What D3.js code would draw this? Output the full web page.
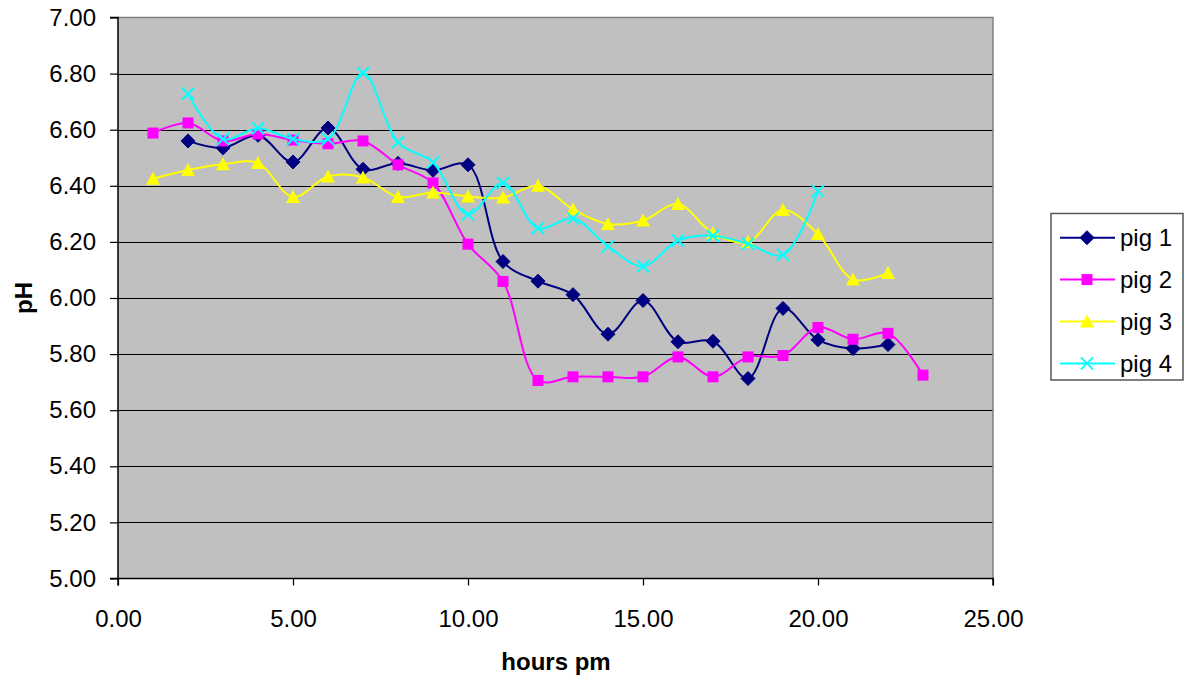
<!DOCTYPE html>
<html><head><meta charset="utf-8">
<script src="https://cdn.jsdelivr.net/npm/d3@7"></script>
<style>body{margin:0;background:#fff;} svg{display:block;font-family:Arial,"Liberation Sans",sans-serif;}</style>
</head><body><svg id="c" width="1186" height="679"></svg>
<script>
// ---- data ----
const hours1 = [2,3,4,5,6,7,8,9,10,11,12,13,14,15,16,17,18,19,20,21,22];
const pig1 = [6.56,6.535,6.58,6.485,6.606,6.459,6.48,6.455,6.475,6.13,6.06,6.012,5.871,5.991,5.844,5.846,5.713,5.963,5.851,5.82,5.834];
const hours2 = [1,2,3,4,5,6,7,8,9,10,11,12,13,14,15,16,17,18,19,20,21,22,23];
const pig2 = [6.588,6.624,6.56,6.585,6.563,6.55,6.56,6.475,6.41,6.192,6.059,5.706,5.719,5.719,5.719,5.79,5.719,5.79,5.795,5.895,5.853,5.874,5.725];
const hours3 = [1,2,3,4,5,6,7,8,9,10,11,12,13,14,15,16,17,18,19,20,21,22];
const pig3 = [6.425,6.456,6.477,6.481,6.36,6.433,6.43,6.36,6.376,6.362,6.358,6.40,6.316,6.264,6.276,6.335,6.231,6.20,6.314,6.228,6.066,6.089];
const hours4 = [2,3,4,5,6,7,8,9,10,11,12,13,14,15,16,17,18,19,20];
const pig4 = [6.728,6.567,6.605,6.567,6.567,6.802,6.555,6.483,6.298,6.41,6.249,6.284,6.184,6.113,6.205,6.222,6.193,6.154,6.381];
const seriesNames = ["pig 1","pig 2","pig 3","pig 4"];
const seriesColors = ["#000080","#FF00FF","#FFFF00","#00FFFF"];
const seriesMarkers = ["diamond","square","triangle","x"];
const xTicks = [0,5,10,15,20,25];
const yTicks = [5.0,5.2,5.4,5.6,5.8,6.0,6.2,6.4,6.6,6.8,7.0];
const xTitle = "hours pm";
const yTitle = "pH";

const series = [
  {name:seriesNames[0], color:seriesColors[0], marker:seriesMarkers[0], pts:hours1.map((h,i)=>[h,pig1[i]])},
  {name:seriesNames[1], color:seriesColors[1], marker:seriesMarkers[1], pts:hours2.map((h,i)=>[h,pig2[i]])},
  {name:seriesNames[2], color:seriesColors[2], marker:seriesMarkers[2], pts:hours3.map((h,i)=>[h,pig3[i]])},
  {name:seriesNames[3], color:seriesColors[3], marker:seriesMarkers[3], pts:hours4.map((h,i)=>[h,pig4[i]])}
];

// ---- layout ----
const L=118, R=993, T=17.5, B=578.5;
const svg = d3.select("#c");
const x = d3.scaleLinear().domain([0,25]).range([L,R]);
const y = d3.scaleLinear().domain([5,7]).range([B,T]);

svg.append("rect").attr("x",L).attr("y",T).attr("width",R-L).attr("height",B-T).attr("fill","#C0C0C0");

// grid
svg.append("g").selectAll("line").data(yTicks.filter(v=>v>5 && v<7)).join("line")
  .attr("x1",L).attr("x2",R).attr("y1",d=>Math.round(y(d))+0.5).attr("y2",d=>Math.round(y(d))+0.5)
  .attr("stroke","#000").attr("stroke-width",1.2);

// border top/right
svg.append("path").attr("d",`M${L},${T}H${R}V${B}`).attr("fill","none").attr("stroke","#808080").attr("stroke-width",1.5);

// axes
const yAxis = d3.axisLeft(y).tickValues(yTicks).tickFormat(d3.format(".2f")).tickSize(8).tickPadding(14);
const gy = svg.append("g").attr("transform",`translate(${L},0)`).call(yAxis);
const xAxis = d3.axisBottom(x).tickValues(xTicks).tickFormat(d3.format(".2f")).tickSize(7).tickPadding(24);
const gx = svg.append("g").attr("transform",`translate(0,${B})`).call(xAxis);
[gy,gx].forEach(g=>{
  g.select(".domain").attr("stroke","#000").attr("stroke-width",1.5);
  g.selectAll(".tick line").attr("stroke","#000").attr("stroke-width",1.2);
  g.selectAll("text").attr("font-size",24).attr("fill","#000").attr("font-family","Arial, 'Liberation Sans', sans-serif");
});
gy.select(".domain").attr("d",`M-8,${B}H0V${T}H-8`);
gx.select(".domain").attr("d",`M${L},7V0H${R}V7`);

// titles
svg.append("text").attr("x",556).attr("y",670).attr("text-anchor","middle")
  .attr("font-size",24).attr("font-weight","bold").text(xTitle);
svg.append("text").attr("transform","translate(32,298) rotate(-90)").attr("text-anchor","middle")
  .attr("font-size",24).attr("font-weight","bold").text(yTitle);

// markers
function marker(g, type, color, cx, cy){
  if(type==="diamond"){
    g.append("path").attr("d",`M${cx},${cy-7}L${cx+7},${cy}L${cx},${cy+7}L${cx-7},${cy}Z`).attr("fill",color).attr("stroke",color);
  } else if(type==="square"){
    g.append("rect").attr("x",cx-5.5).attr("y",cy-5.5).attr("width",11).attr("height",11).attr("fill",color);
  } else if(type==="triangle"){
    g.append("path").attr("d",`M${cx},${cy-7}L${cx+7},${cy+6}L${cx-7},${cy+6}Z`).attr("fill",color);
  } else {
    g.append("path").attr("d",`M${cx-6},${cy-6}L${cx+6},${cy+6}M${cx+6},${cy-6}L${cx-6},${cy+6}`).attr("stroke",color).attr("stroke-width",2).attr("fill","none");
  }
}

const line = d3.line().x(d=>x(d[0])).y(d=>y(d[1])).curve(d3.curveCatmullRom.alpha(0.5));
series.forEach(s=>{
  const g = svg.append("g");
  g.append("path").attr("d",line(s.pts)).attr("fill","none").attr("stroke",s.color).attr("stroke-width",2);
  s.pts.forEach(p=>marker(g,s.marker,s.color,x(p[0]),y(p[1])));
});

// legend
const lg = svg.append("g");
lg.append("rect").attr("x",1051).attr("y",213.5).attr("width",132).attr("height",166.5)
  .attr("fill","#fff").attr("stroke","#555").attr("stroke-width",1.5);
series.forEach((s,i)=>{
  const cy = 237.7 + i*41.9;
  lg.append("line").attr("x1",1060).attr("x2",1115).attr("y1",cy).attr("y2",cy).attr("stroke",s.color).attr("stroke-width",2);
  marker(lg,s.marker,s.color,1087,cy);
  lg.append("text").attr("x",1120).attr("y",cy).attr("dy","0.35em").attr("font-size",24).text(s.name);
});
</script></body></html>
